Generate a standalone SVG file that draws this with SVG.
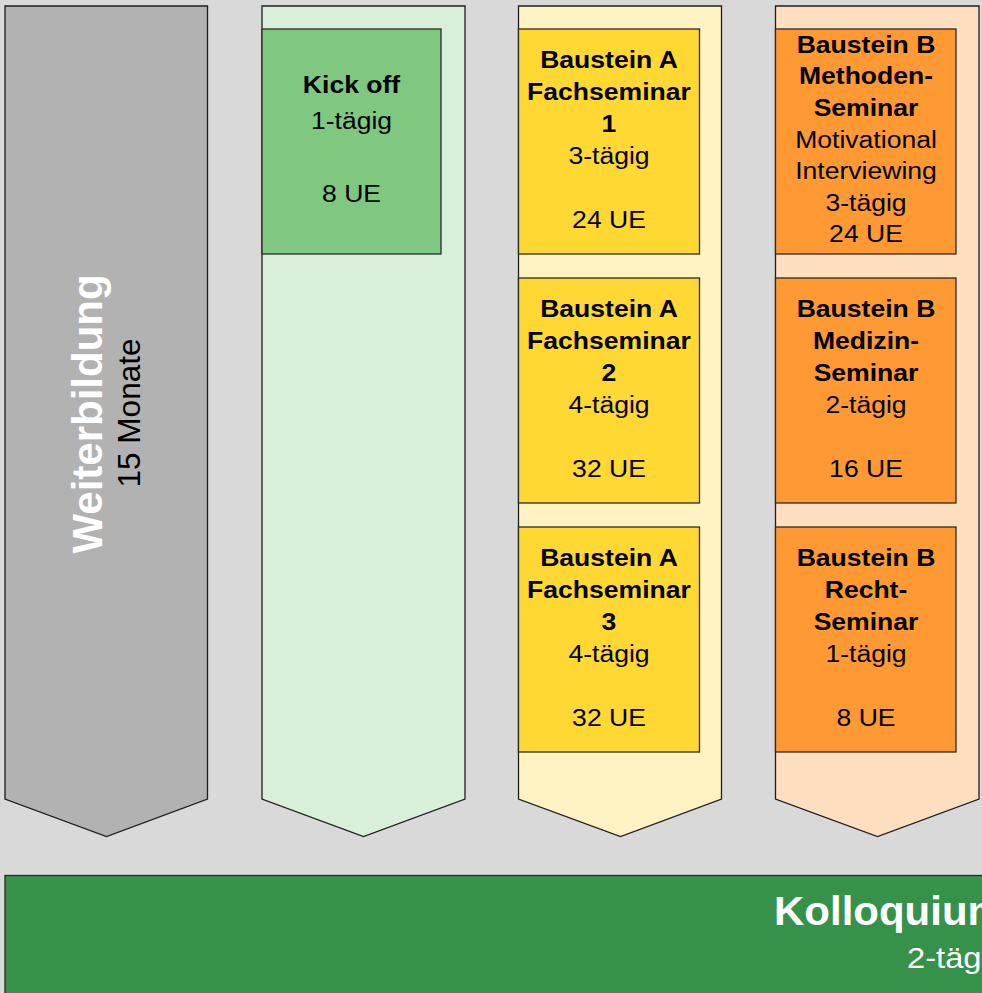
<svg xmlns="http://www.w3.org/2000/svg" width="982" height="993" viewBox="0 0 982 993">
<style>
.arrow{stroke:#1e1e1e;stroke-width:1.3;stroke-linejoin:miter}
.box{stroke:#2a2a2a;stroke-width:1.3}
text{font-family:"Liberation Sans",Arial,sans-serif;text-anchor:middle;fill:#000}
.b{font-weight:bold;font-size:23.5px}
.r{font-size:23.5px}
</style>
<rect x="0" y="0" width="982" height="993" fill="#d9d9d9"/>
<g id="arrow-weiterbildung">
<polygon class="arrow" fill="#b2b2b2" points="5,6 207.5,6 207.5,799 106.5,836.5 5,799"/>
<text transform="translate(102 414) rotate(-90)" style="font-weight:bold;font-size:42px;fill:#ffffff">Weiterbildung</text>
<text transform="translate(140 413) rotate(-90)" style="font-size:31.5px">15 Monate</text>
</g>
<g id="arrow-kickoff">
<polygon class="arrow" fill="#d9efd9" points="262,6 465,6 465,799 363.5,836.5 262,799"/>
</g>
<g id="arrow-a">
<polygon class="arrow" fill="#fff2c3" points="518.5,6 721.5,6 721.5,799 620.5,836.5 518.5,799"/>
</g>
<g id="arrow-b">
<polygon class="arrow" fill="#ffdfc0" points="775.5,6 979,6 979,799 877.5,836.5 775.5,799"/>
</g>
<g id="kickoff">
<rect class="box" x="262" y="29" width="179" height="225" fill="#80c880"/>
<text class="b" transform="translate(351.5 0) scale(1.13 1)"><tspan x="0" y="93">Kick off</tspan></text>
<text class="r" transform="translate(351.5 0) scale(1.13 1)"><tspan x="0" y="129.5">1-tägig</tspan><tspan x="0" y="202.5">8 UE</tspan></text>
</g>
<g id="a1">
<rect class="box" x="518.5" y="29" width="181" height="225" fill="#ffd833"/>
<text class="b" transform="translate(609 0) scale(1.13 1)"><tspan x="0" y="68">Baustein A</tspan><tspan x="0" y="100">Fachseminar</tspan><tspan x="0" y="132">1</tspan></text>
<text class="r" transform="translate(609 0) scale(1.13 1)"><tspan x="0" y="164">3-tägig</tspan><tspan x="0" y="228">24 UE</tspan></text>
</g>
<g id="a2">
<rect class="box" x="518.5" y="278" width="181" height="225" fill="#ffd833"/>
<text class="b" transform="translate(609 0) scale(1.13 1)"><tspan x="0" y="317">Baustein A</tspan><tspan x="0" y="349">Fachseminar</tspan><tspan x="0" y="381">2</tspan></text>
<text class="r" transform="translate(609 0) scale(1.13 1)"><tspan x="0" y="413">4-tägig</tspan><tspan x="0" y="477">32 UE</tspan></text>
</g>
<g id="a3">
<rect class="box" x="518.5" y="527" width="181" height="225" fill="#ffd833"/>
<text class="b" transform="translate(609 0) scale(1.13 1)"><tspan x="0" y="566">Baustein A</tspan><tspan x="0" y="598">Fachseminar</tspan><tspan x="0" y="630">3</tspan></text>
<text class="r" transform="translate(609 0) scale(1.13 1)"><tspan x="0" y="662">4-tägig</tspan><tspan x="0" y="726">32 UE</tspan></text>
</g>
<g id="b1">
<rect class="box" x="775.5" y="29" width="180.5" height="225" fill="#ff9933"/>
<text class="b" transform="translate(866 0) scale(1.13 1)"><tspan x="0" y="53">Baustein B</tspan><tspan x="0" y="84.5">Methoden-</tspan><tspan x="0" y="116">Seminar</tspan></text>
<text class="r" transform="translate(866 0) scale(1.13 1)"><tspan x="0" y="148">Motivational</tspan><tspan x="0" y="179.5">Interviewing</tspan><tspan x="0" y="211">3-tägig</tspan><tspan x="0" y="242.5">24 UE</tspan></text>
</g>
<g id="b2">
<rect class="box" x="775.5" y="278" width="180.5" height="225" fill="#ff9933"/>
<text class="b" transform="translate(866 0) scale(1.13 1)"><tspan x="0" y="317">Baustein B</tspan><tspan x="0" y="349">Medizin-</tspan><tspan x="0" y="381">Seminar</tspan></text>
<text class="r" transform="translate(866 0) scale(1.13 1)"><tspan x="0" y="413">2-tägig</tspan><tspan x="0" y="477">16 UE</tspan></text>
</g>
<g id="b3">
<rect class="box" x="775.5" y="527" width="180.5" height="225" fill="#ff9933"/>
<text class="b" transform="translate(866 0) scale(1.13 1)"><tspan x="0" y="566">Baustein B</tspan><tspan x="0" y="598">Recht-</tspan><tspan x="0" y="630">Seminar</tspan></text>
<text class="r" transform="translate(866 0) scale(1.13 1)"><tspan x="0" y="662">1-tägig</tspan><tspan x="0" y="726">8 UE</tspan></text>
</g>
<g id="kolloquium">
<rect class="box" x="5" y="875.5" width="1100" height="200" fill="#36924a"/>
<text transform="translate(774 925) scale(1.05 1)" style="text-anchor:start;font-weight:bold;font-size:40px;fill:#ffffff">Kolloquium</text>
<text transform="translate(907 968) scale(1.09 1)" style="text-anchor:start;font-size:30px;fill:#ffffff">2-tägig</text>
</g>
<g id="connectors"/>
</svg>
